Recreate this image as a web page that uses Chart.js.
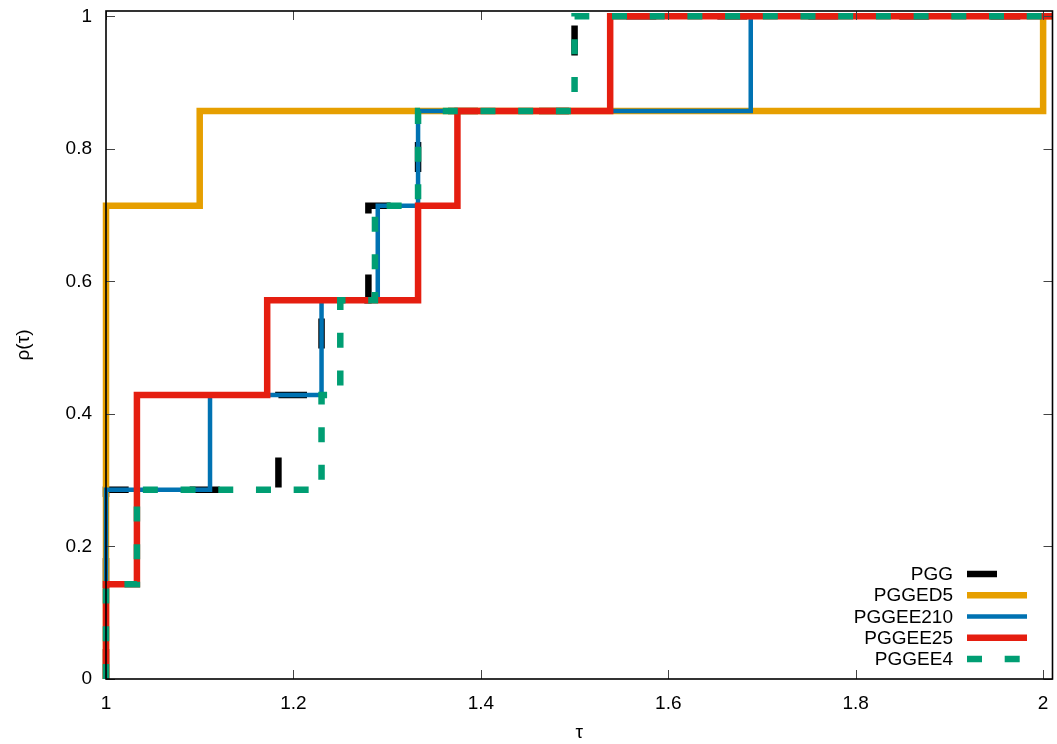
<!DOCTYPE html>
<html>
<head>
<meta charset="utf-8">
<script src="https://cdn.jsdelivr.net/npm/chart.js@4/dist/chart.umd.min.js"></script>
<style>
  html, body { margin: 0; padding: 0; background: #ffffff; }
  #wrap { width: 1057px; height: 744px; }
</style>
</head>
<body>
<div id="wrap"><canvas id="c" width="1057" height="744"></canvas></div>
<script>
// Performance profile: fraction of problems rho(tau) solved within a factor tau of the best.
const seriesNames = ['PGG', 'PGGED5', 'PGGEE210', 'PGGEE25', 'PGGEE4'];

const tauPGG      = [1, 1,     1.184, 1.230, 1.280, 1.333, 1.500, 2.01];
const rhoPGG      = [0, 2/7,   3/7,   4/7,   5/7,   6/7,   1,     1];

const tauPGGED5   = [1, 1,     1.100, 2.000, 2.01];
const rhoPGGED5   = [0, 5/7,   6/7,   1,     1];

const tauPGGEE210 = [1, 1,     1.111, 1.230, 1.290, 1.333, 1.688, 2.01];
const rhoPGGEE210 = [0, 2/7,   3/7,   4/7,   5/7,   6/7,   1,     1];

const tauPGGEE25  = [1, 1,     1.033, 1.172, 1.333, 1.375, 1.538, 2.01];
const rhoPGGEE25  = [0, 1/7,   3/7,   4/7,   5/7,   6/7,   1,     1];

const tauPGGEE4   = [1, 1,     1.033, 1.230, 1.250, 1.287, 1.333, 1.500, 2.01];
const rhoPGGEE4   = [0, 1/7,   2/7,   3/7,   4/7,   5/7,   6/7,   1,     1];

const xTickValues = [1, 1.2, 1.4, 1.6, 1.8, 2];
const xTickLabels = ['1', '1.2', '1.4', '1.6', '1.8', '2'];
const yTickValues = [0, 0.2, 0.4, 0.6, 0.8, 1];
const yTickLabels = ['0', '0.2', '0.4', '0.6', '0.8', '1'];

const FONT = 'Liberation Sans, Arial, Helvetica, sans-serif';
const FONT_SIZE = 19;

function pts(t, r) { return t.map((v, i) => ({ x: v, y: r[i] })); }

const styles = [
  { color: '#000000', width: 6.5, dash: [30, 61] },
  { color: '#e69f00', width: 6.5, dash: [] },
  { color: '#0072b2', width: 4.5, dash: [] },
  { color: '#e51e10', width: 6.5, dash: [] },
  { color: '#009e73', width: 6.5, dash: [15, 22.7] }
];
const seriesData = [
  pts(tauPGG, rhoPGG),
  pts(tauPGGED5, rhoPGGED5),
  pts(tauPGGEE210, rhoPGGEE210),
  pts(tauPGGEE25, rhoPGGEE25),
  pts(tauPGGEE4, rhoPGGEE4)
];

const datasets = seriesNames.map((name, i) => ({
  label: name,
  data: seriesData[i],
  stepped: 'before',
  borderColor: styles[i].color,
  backgroundColor: styles[i].color,
  borderWidth: styles[i].width,
  borderDash: styles[i].dash,
  borderCapStyle: 'butt',
  borderJoinStyle: 'miter',
  pointRadius: 0,
  fill: false,
  clip: false,
  order: seriesNames.length - i   // later series are painted over earlier ones
}));

// Box frame with inward ticks on all four sides
const framePlugin = {
  id: 'frame',
  afterDatasetsDraw(chart) {
    const { ctx, chartArea: a, scales } = chart;
    ctx.save();
    ctx.strokeStyle = '#444';
    ctx.lineWidth = 1;
    const L = 9;
    xTickValues.forEach(v => {
      const px = Math.round(scales.x.getPixelForValue(v)) + 0.5;
      ctx.beginPath();
      ctx.moveTo(px, a.bottom); ctx.lineTo(px, a.bottom - L);
      ctx.moveTo(px, a.top); ctx.lineTo(px, a.top + L);
      ctx.stroke();
    });
    yTickValues.forEach(v => {
      const py = Math.round(scales.y.getPixelForValue(v)) + 0.5;
      ctx.beginPath();
      ctx.moveTo(a.left, py); ctx.lineTo(a.left + L, py);
      ctx.moveTo(a.right, py); ctx.lineTo(a.right - L, py);
      ctx.stroke();
    });
    ctx.strokeStyle = '#000';
    ctx.lineWidth = 1.6;
    ctx.strokeRect(a.left, a.top, a.right - a.left, a.bottom - a.top);
    ctx.restore();
  }
};

// Key in the lower right: right-aligned names followed by line samples
const keyPlugin = {
  id: 'key',
  afterDraw(chart) {
    const { ctx } = chart;
    const textRight = 953, sampleL = 967, sampleR = 1027, y0 = 574, dy = 21.25;
    ctx.save();
    ctx.font = FONT_SIZE + 'px ' + FONT;
    ctx.textAlign = 'right';
    ctx.textBaseline = 'middle';
    chart.data.datasets.forEach((ds, i) => {
      const y = y0 + i * dy;
      ctx.fillStyle = '#000';
      ctx.fillText(ds.label, textRight, y + 1);
      ctx.beginPath();
      ctx.setLineDash(ds.borderDash);
      ctx.lineDashOffset = 0;
      ctx.lineCap = 'butt';
      ctx.strokeStyle = ds.borderColor;
      ctx.lineWidth = ds.borderWidth;
      ctx.moveTo(sampleL, y);
      ctx.lineTo(sampleR, y);
      ctx.stroke();
    });
    ctx.restore();
  }
};

new Chart(document.getElementById('c'), {
  type: 'line',
  data: { datasets },
  options: {
    responsive: false,
    devicePixelRatio: 1,
    animation: false,
    layout: { padding: { top: 11, right: 4.5, left: 0, bottom: 0 } },
    plugins: { legend: { display: false }, tooltip: { enabled: false } },
    scales: {
      x: {
        type: 'linear',
        min: 1,
        max: 2.01,
        afterBuildTicks: s => { s.ticks = xTickValues.map(v => ({ value: v })); },
        afterFit: s => { s.height = 65; s.paddingLeft = 0; s.paddingRight = 0; },
        grid: { display: false, drawTicks: false },
        border: { display: false },
        ticks: {
          autoSkip: false, maxRotation: 0, padding: 13,
          color: '#000', font: { family: FONT, size: FONT_SIZE },
          callback: (v, i) => xTickLabels[i]
        },
        title: {
          display: true, text: 'τ', color: '#000',
          font: { family: FONT, size: FONT_SIZE }, padding: { top: 0, bottom: 0 }
        }
      },
      y: {
        type: 'linear',
        min: 0,
        max: 1.008,
        afterBuildTicks: s => { s.ticks = yTickValues.map(v => ({ value: v })); },
        afterFit: s => { s.width = 106; s.paddingTop = 0; s.paddingBottom = 0; },
        grid: { display: false, drawTicks: false },
        border: { display: false },
        ticks: {
          autoSkip: false, padding: 14,
          color: '#000', font: { family: FONT, size: FONT_SIZE },
          callback: (v, i) => yTickLabels[i]
        },
        title: {
          display: true, text: 'ρ(τ)', color: '#000',
          font: { family: FONT, size: FONT_SIZE }, padding: { top: 12, bottom: 0 }
        }
      }
    }
  },
  plugins: [framePlugin, keyPlugin]
});
</script>
</body>
</html>
